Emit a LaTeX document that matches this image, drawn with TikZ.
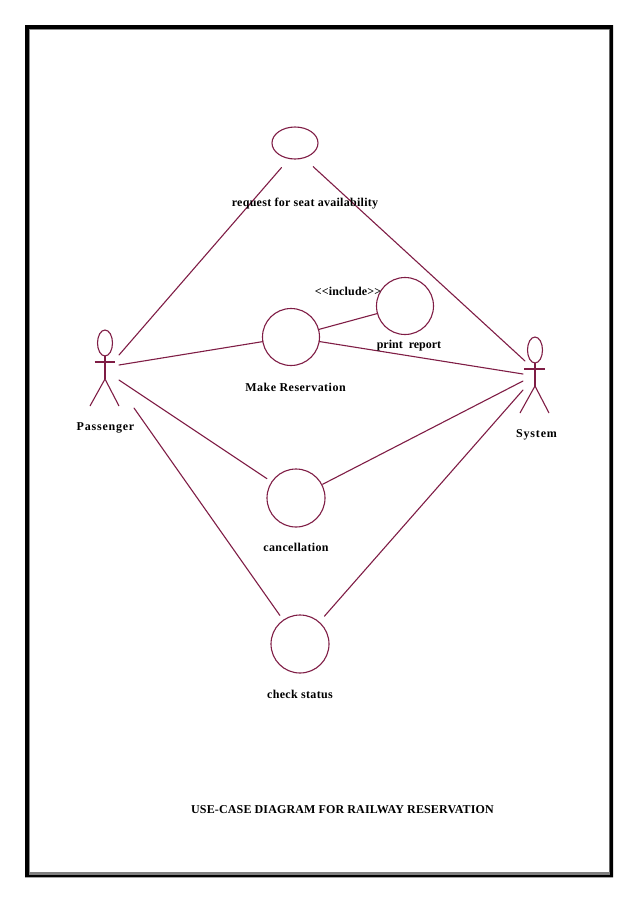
\documentclass[tikz,border=0pt]{standalone}
\usepackage{fontspec}
\usetikzlibrary{shapes.geometric}
\setmainfont{Liberation Serif}
\definecolor{umlred}{HTML}{7F1D45}
\tikzset{
  uml/.style={draw=umlred,line width=1.1pt},
  usecase/.style={uml,circle,minimum size=#1,inner sep=0pt,outer sep=0pt},
  lbl/.style={font=\bfseries\fontsize{12}{14}\selectfont\addfontfeature{LetterSpace=#1},text=black,inner sep=0pt,anchor=base},
  lbl/.default=0,
  assoc/.style={uml,line cap=round}
}
\begin{document}
\begin{tikzpicture}[x=1pt,y=-1pt]
\useasboundingbox (0,0) rectangle (638,903);
% page border
\fill[black,even odd rule] (25,25) rectangle (613,877.3) (29,29) rectangle (610,875);
\draw[line width=1.3pt,black!45] (29,29.7) -- (610,29.7);
\draw[line width=1.3pt,black!45] (29.7,29) -- (29.7,875);
\draw[line width=1pt,black!60] (609.5,29) -- (609.5,875);
\draw[line width=3pt,black!50] (29,873.5) -- (610,873.5);
% use cases
\node[uml,ellipse,minimum width=46pt,minimum height=32pt,inner sep=0pt,outer sep=0pt] (req) at (295,143) {};
\node[usecase=57pt] (res) at (291,337) {};
\node[usecase=57pt] (prt) at (405,306) {};
\node[usecase=58pt] (can) at (296,498) {};
\node[usecase=58pt] (chk) at (300,644) {};
% Passenger actor
\node[uml,ellipse,minimum width=15pt,minimum height=26pt,inner sep=0pt,outer sep=0pt] (pHead) at (105,343) {};
\coordinate (pArmL) at (94.5,362); \coordinate (pArmR) at (115,362);
\coordinate (pHip) at (105,379); \coordinate (pLegL) at (90,406); \coordinate (pLegR) at (119,406);
\draw[uml] (pHead.south) -- (pHip);
\draw[uml] (pArmL) -- (pArmR);
\draw[uml] (pLegL) -- (pHip) -- (pLegR);
% System actor
\node[uml,ellipse,minimum width=15pt,minimum height=26pt,inner sep=0pt,outer sep=0pt] (sHead) at (535,350) {};
\coordinate (sArmL) at (524,369); \coordinate (sArmR) at (545,369);
\coordinate (sHip) at (535,386); \coordinate (sLegL) at (520,413); \coordinate (sLegR) at (549,413);
\draw[uml] (sHead.south) -- (sHip);
\draw[uml] (sArmL) -- (sArmR);
\draw[uml] (sLegL) -- (sHip) -- (sLegR);
% connector ends at the actors
\coordinate (p1) at (119,355); \coordinate (p2) at (119,365); \coordinate (p3) at (119,380); \coordinate (p4) at (134,408);
\coordinate (s1) at (525,361); \coordinate (s2) at (523,374); \coordinate (s3) at (523,381); \coordinate (s4) at (523,390);
\draw[assoc,shorten >=12pt] (p1) -- (req.250);
\draw[assoc] (p2) -- (res);
\draw[assoc,shorten >=6pt] (p3) -- (can);
\draw[assoc,shorten >=6pt] (p4) -- (chk);
\draw[assoc,shorten >=13pt] (s1) -- (req.300);
\draw[assoc] (s2) -- (res);
\draw[assoc,shorten >=1pt] (s3) -- (can);
\draw[assoc,shorten >=8pt] (s4) -- (chk);
\draw[assoc] (res) -- (prt);
% labels
\node[lbl=2.3] (t1) at (305,206) {request for seat availability};
\node[lbl=1.5] (t2) at (348,295) {<{}<include>{}>};
\node[lbl] (t3) at (409,348) {print\ \ report};
\node[lbl=4] (t4) at (295.5,391) {Make Reservation};
\node[lbl=6.5] (t5) at (105.5,430) {Passenger};
\node[lbl=7] (t6) at (536.5,437) {System};
\node[lbl=2.8] (t7) at (296,551) {cancellation};
\node[lbl=2.8] (t8) at (300,698) {check status};
\node[lbl=1.2] (t9) at (342.5,813) {USE-CASE DIAGRAM FOR RAILWAY RESERVATION};
\end{tikzpicture}
\end{document}
